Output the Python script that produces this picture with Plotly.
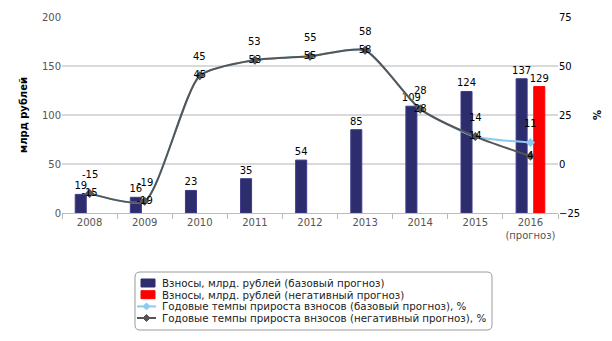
import plotly.graph_objects as go

years = ["2008", "2009", "2010", "2011", "2012", "2013", "2014", "2015", "2016<br>(прогноз)"]
contrib_base = [19, 16, 23, 35, 54, 85, 109, 124, 137]
contrib_neg = [None, None, None, None, None, None, None, None, 129]
growth_base = [-15, -19, 45, 53, 55, 58, 28, 14, 11]
growth_neg = [-15, -19, 45, 53, 55, 58, 28, 14, 4]
legend_names = [
    "Взносы, млрд. рублей (базовый прогноз)",
    "Взносы, млрд. рублей (негативный прогноз)",
    "Годовые темпы прироста взносов (базовый прогноз), %",
    "Годовые темпы прироста внзосов (негативный прогноз), %",
]

FONT = "DejaVu Sans"
NAVY = "#2d2d6e"
RED = "#ff0000"
LIGHTBLUE = "#8ccaf0"
DARKLINE = "#555555"

W, H = 612, 341
ML, MR, MT, MB = 62, 54, 17, 128
PW, PH = W - ML - MR, H - MT - MB


def px(xp):
    return (xp - ML) / PW


def py(yp):
    return (H - MB - yp) / PH


fig = go.Figure()

fig.add_trace(go.Bar(
    x=years, y=contrib_base, name=legend_names[0],
    marker=dict(color=NAVY, line=dict(color="#3c3c8c", width=1)),
    width=0.2, offset=-0.26,
    text=contrib_base, textposition="outside", cliponaxis=False, constraintext="none",
    textfont=dict(family=FONT, size=10, color="#000000"),
))
fig.add_trace(go.Bar(
    x=years, y=contrib_neg, name=legend_names[1],
    marker=dict(color=RED, line=dict(color=RED, width=1)),
    width=0.2, offset=0.06,
    text=contrib_neg, textposition="outside", cliponaxis=False, constraintext="none",
    textfont=dict(family=FONT, size=10, color="#000000"),
))
fig.add_trace(go.Scatter(
    x=years, y=growth_base, yaxis="y2", mode="lines+markers",
    name=legend_names[2],
    line=dict(color=LIGHTBLUE, width=2, shape="spline", smoothing=0.6),
    marker=dict(symbol="diamond", size=7, color=LIGHTBLUE),
))
fig.add_trace(go.Scatter(
    x=years, y=growth_neg, yaxis="y2", mode="lines+markers+text",
    name=legend_names[3],
    line=dict(color=DARKLINE, width=2, shape="spline", smoothing=0.6),
    marker=dict(symbol="diamond", size=7, color=DARKLINE),
    text=[str(v) for v in growth_neg], textposition="middle center",
    textfont=dict(family=FONT, size=10, color="#000000"),
    cliponaxis=False,
))

# labels of the base growth series, raised above their points
for i, v in enumerate(growth_base):
    fig.add_annotation(x=i, y=v, xref="x", yref="y2", text=str(v), showarrow=False,
                       yshift=19, font=dict(family=FONT, size=10, color="#000000"))

# legend box drawn below the plot
bx0, bx1, by0, by1, r = 135, 492, 272, 330, 5
path = (f"M {px(bx0 + r)},{py(by0)} L {px(bx1 - r)},{py(by0)} "
        f"Q {px(bx1)},{py(by0)} {px(bx1)},{py(by0 + r)} "
        f"L {px(bx1)},{py(by1 - r)} Q {px(bx1)},{py(by1)} {px(bx1 - r)},{py(by1)} "
        f"L {px(bx0 + r)},{py(by1)} Q {px(bx0)},{py(by1)} {px(bx0)},{py(by1 - r)} "
        f"L {px(bx0)},{py(by0 + r)} Q {px(bx0)},{py(by0)} {px(bx0 + r)},{py(by0)} Z")
fig.add_shape(type="path", path=path, xref="paper", yref="paper",
              line=dict(color="#9a9a9a", width=1), fillcolor="white", layer="below")

row_y = [283, 294.7, 306.4, 318]
swatch = [NAVY, RED]
for k, (name, yy) in enumerate(zip(legend_names, row_y)):
    if k < 2:
        fig.add_shape(type="rect", xref="paper", yref="paper",
                      x0=px(141), x1=px(155), y0=py(yy - 4), y1=py(yy + 4),
                      fillcolor=swatch[k], line=dict(color=swatch[k], width=1))
    else:
        col = LIGHTBLUE if k == 2 else DARKLINE
        fig.add_shape(type="line", xref="paper", yref="paper",
                      x0=px(137), x1=px(156), y0=py(yy), y1=py(yy),
                      line=dict(color=col, width=2))
        cx, d = 146.5, 3.5
        diamond = (f"M {px(cx)},{py(yy - d)} L {px(cx + d)},{py(yy)} "
                   f"L {px(cx)},{py(yy + d)} L {px(cx - d)},{py(yy)} Z")
        fig.add_shape(type="path", path=diamond, xref="paper", yref="paper",
                      fillcolor=col, line=dict(color=col, width=1))
    fig.add_annotation(x=px(160), y=py(yy), xref="paper", yref="paper",
                       text=name, showarrow=False, xanchor="left", yanchor="middle",
                       font=dict(family=FONT, size=10.3, color="#222222"))

fig.update_layout(
    width=W, height=H,
    margin=dict(l=ML, r=MR, t=MT, b=MB),
    paper_bgcolor="white", plot_bgcolor="white",
    font=dict(family=FONT, size=10, color="#555555"),
    showlegend=False,
    xaxis=dict(
        type="category", range=[-0.5, len(years) - 0.5],
        showgrid=False, showline=True, linecolor="#bbbbbb",
        ticks="outside", tickson="boundaries", ticklen=5, tickcolor="#bbbbbb",
        tickangle=0,
        tickfont=dict(family=FONT, size=10, color="#555555"),
    ),
    yaxis=dict(
        range=[0, 200], dtick=50, showgrid=True, gridcolor="#d9d9d9", gridwidth=2,
        zeroline=False, showline=False, ticks="",
        tickfont=dict(family=FONT, size=10, color="#555555"),
        title=dict(text="<b>млрд рублей</b>", font=dict(family=FONT, size=10, color="#000000"), standoff=12),
    ),
    yaxis2=dict(
        overlaying="y", side="right", range=[-25, 75], dtick=25,
        showgrid=False, zeroline=False, showline=False, ticks="",
        tickfont=dict(family=FONT, size=10, color="#000000"),
        title=dict(text="<b>%</b>", font=dict(family=FONT, size=10, color="#000000"), standoff=14),
    ),
)

fig.write_html("out.html")
